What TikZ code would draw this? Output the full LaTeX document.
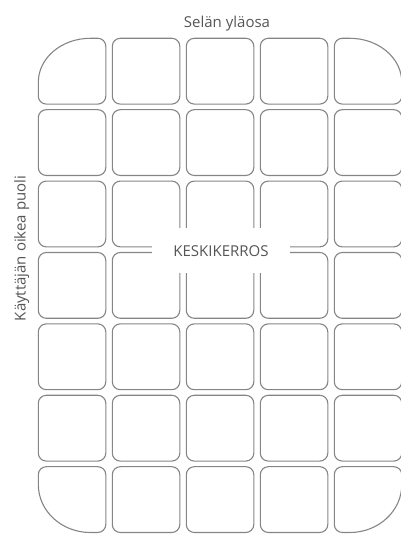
\documentclass[tikz,border=0pt]{standalone}
\usepackage{fontspec}
\setmainfont{Open Sans}
\definecolor{seatline}{HTML}{858585}
\definecolor{seattext}{HTML}{555555}

\begin{document}
\begin{tikzpicture}[x=1pt, y=1pt,
        every node/.style={font=\fontsize{15}{17}\selectfont, text=seattext},
        cell/.style={
          draw=seatline, line width=1.1pt,
          rounded corners=8pt,
          minimum width=67.5pt, minimum height=65.8pt, inner sep=0pt,
        },
        rim/.style={draw=seatline, line width=1.1pt},
        mid/.style={fill=white, minimum width=138pt, minimum height=45pt, inner sep=0pt},
      ]
      \useasboundingbox (0,0) rectangle (400,534);
      % ordinary cells
      \foreach \r in {0,...,6}
        \foreach \c in {0,...,4} {
          \ifnum\r=0 \ifnum\c=0 \else\ifnum\c=4 \else
            \node[cell] (c\r\c) at (72.05+74*\c, 462.8-71.4*\r) {};
          \fi\fi
          \else\ifnum\r=6 \ifnum\c=0 \else\ifnum\c=4 \else
            \node[cell] (c\r\c) at (72.05+74*\c, 462.8-71.4*\r) {};
          \fi\fi
          \else
            \node[cell] (c\r\c) at (72.05+74*\c, 462.8-71.4*\r) {};
          \fi\fi
        }
      % corner cells
      \draw[rim] (38.3,437.9) -- (38.3,451.7)
        arc[start angle=180, end angle=90, x radius=52, y radius=44]
        -- (97.8,495.7) arc[start angle=90, end angle=0, radius=8]
        -- (105.8,437.9) arc[start angle=0, end angle=-90, radius=8]
        -- (46.3,429.9) arc[start angle=-90, end angle=-180, radius=8] -- cycle;
      \draw[rim] (342.3,495.7) -- (349.8,495.7)
        arc[start angle=90, end angle=0, x radius=52, y radius=44]
        -- (401.8,437.9) arc[start angle=0, end angle=-90, radius=8]
        -- (342.3,429.9) arc[start angle=-90, end angle=-180, radius=8]
        -- (334.3,487.7) arc[start angle=180, end angle=90, radius=8] -- cycle;
      \draw[rim] (46.3,67.3) -- (97.8,67.3) arc[start angle=90, end angle=0, radius=8]
        -- (105.8,9.5) arc[start angle=0, end angle=-90, radius=8]
        -- (90.3,1.5) arc[start angle=-90, end angle=-180, x radius=52, y radius=48]
        -- (38.3,59.3) arc[start angle=180, end angle=90, radius=8] -- cycle;
      \draw[rim] (342.3,67.3) -- (393.8,67.3) arc[start angle=90, end angle=0, radius=8]
        -- (401.8,49.5) arc[start angle=0, end angle=-90, x radius=52, y radius=48]
        -- (342.3,1.5) arc[start angle=-90, end angle=-180, radius=8]
        -- (334.3,59.3) arc[start angle=180, end angle=90, radius=8] -- cycle;
      % labels
      \node[mid] (mid) at (221,283.3) {KESKIKERROS};
      \node[anchor=base] (top) at (227,506.7) {Selän yläosa};
      \node[anchor=base, rotate=90] (side) at (25.5,285.5) {Käyttäjän oikea puoli};
    \end{tikzpicture}
\end{document}
